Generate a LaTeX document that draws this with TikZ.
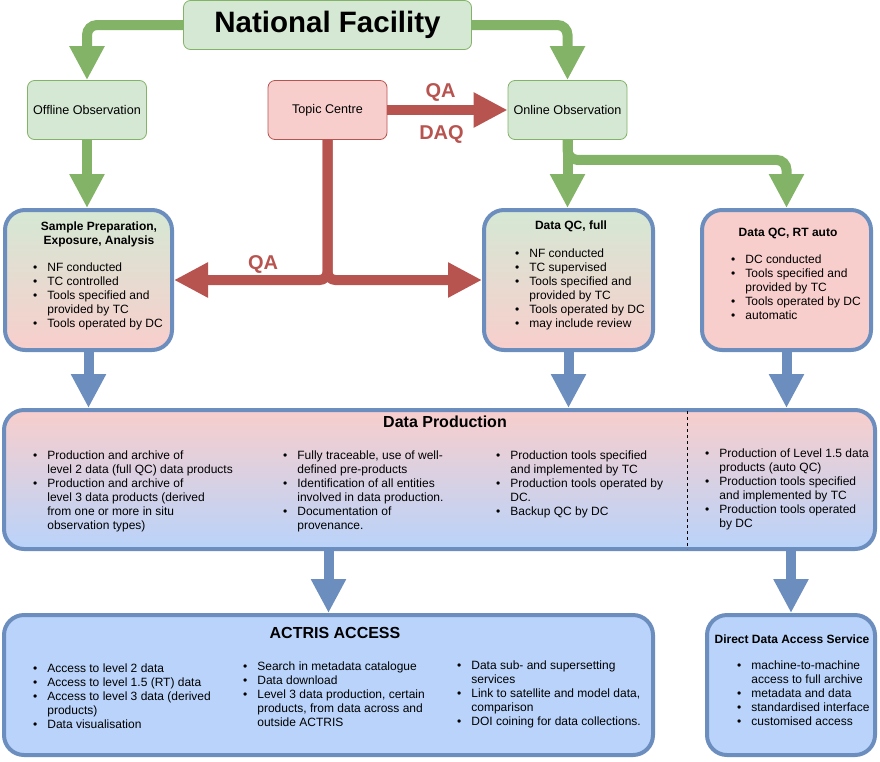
\documentclass[tikz,border=0pt]{standalone}
\usepackage{fontspec}
\setmainfont{Liberation Sans}
\usepackage{xcolor}
\usepackage{tikz}
\usetikzlibrary{arrows.meta,positioning,calc}

\definecolor{gfill}{HTML}{D5E8D4}
\definecolor{gline}{HTML}{82B366}
\definecolor{rfill}{HTML}{F8CECC}
\definecolor{rline}{HTML}{B85450}
\definecolor{bline}{HTML}{6C8EBF}
\definecolor{bfill}{HTML}{B9D3FA}

\newcommand{\itm}{\textbullet &}
\newcommand{\blist}[1]{\begin{tabular}[t]{@{}l@{\hspace{10pt}}l@{}}#1\end{tabular}}

\begin{document}
\begin{tikzpicture}[
    x=1pt, y=-1pt,
    font=\fontsize{12}{14}\selectfont,
    small/.style={draw=gline, fill=gfill, rounded corners=7pt, line width=0.8pt, inner sep=0pt, font=\fontsize{12.6}{14}\selectfont},
    bigbox/.style={draw=bline, line width=4pt, rounded corners=20pt, inner sep=0pt},
    txt/.style={inner sep=0pt, anchor=base west},
    ttl/.style={inner sep=0pt, font=\fontsize{12}{14}\selectfont\bfseries, align=center},
    garrow/.style={gline, line width=10pt, rounded corners=10pt, -{Triangle[width=33pt,length=34pt]}},
    rarrow/.style={rline, line width=10pt, rounded corners=8pt, -{Triangle[width=33pt,length=34pt]}},
    barrow/.style={bline, line width=10pt, -{Triangle[width=33pt,length=34pt]}},
    qlabel/.style={text=rline, inner sep=0pt, font=\fontsize{20}{22}\selectfont\bfseries}
]
\useasboundingbox (0,0) rectangle (880,761);

% top row
\node[small, minimum width=288pt, minimum height=49pt, font=\fontsize{29.5}{32}\selectfont\bfseries] (nf) at (327.5,25) {National Facility};
\node[small, minimum width=119pt, minimum height=59pt] (offline) at (87,110) {Offline Observation};
\node[small, draw=rline, fill=rfill, minimum width=119pt, minimum height=59pt] (topic) at (327.5,110) {Topic Centre};
\node[small, minimum width=119pt, minimum height=59pt] (online) at (567.5,110) {Online Observation};

% quality control boxes
\node[bigbox, top color=gfill, bottom color=rfill, minimum width=167pt, minimum height=140pt] (prep) at (88.5,280) {};
\node[bigbox, top color=gfill, bottom color=rfill, minimum width=169pt, minimum height=140pt] (qcfull) at (568.5,280) {};
\node[bigbox, fill=rfill, minimum width=169pt, minimum height=140pt] (qcrt) at (786.5,280) {};

\node[ttl] (prepTitle) at (99,234) {Sample Preparation,\\Exposure, Analysis};
\node[txt] (prepList) at (33,271) {\blist{\itm NF conducted\\ \itm TC controlled\\ \itm Tools specified and\\ & provided by TC\\ \itm Tools operated by DC}};

\node[ttl] (qcfullTitle) at (571,226) {Data QC, full};
\node[txt] (qcfullList) at (515,257) {\blist{\itm NF conducted\\ \itm TC supervised\\ \itm Tools specified and\\ & provided by TC\\ \itm Tools operated by DC\\ \itm may include review}};

\node[ttl] (qcrtTitle) at (788,233) {Data QC, RT auto};
\node[txt] (qcrtList) at (731,263) {\blist{\itm DC conducted\\ \itm Tools specified and\\ & provided by TC\\ \itm Tools operated by DC\\ \itm automatic}};

% data production
\node[bigbox, top color=rfill, bottom color=bfill, minimum width=871pt, minimum height=139pt] (prod) at (439.5,479.5) {};
\draw[dashed, line width=0.8pt] (687,411) -- (687,549);
\node[ttl, font=\fontsize{16}{18}\selectfont\bfseries] (prodTitle) at (445,422) {Data Production};
\node[txt] (prodListA) at (33,459) {\blist{\itm Production and archive of\\ & level 2 data (full QC) data products\\ \itm Production and archive of\\ & level 3 data products (derived\\ & from one or more in situ\\ & observation types)}};
\node[txt] (prodListB) at (283,459) {\blist{\itm Fully traceable, use of well-\\ & defined pre-products\\ \itm Identification of all entities\\ & involved in data production.\\ \itm Documentation of\\ & provenance.}};
\node[txt] (prodListC) at (496,459) {\blist{\itm Production tools specified\\ & and implemented by TC\\ \itm Production tools operated by\\ & DC.\\ \itm Backup QC by DC}};
\node[txt] (prodListD) at (705,457) {\blist{\itm Production of Level 1.5 data\\ & products (auto QC)\\ \itm Production tools specified\\ & and implemented by TC\\ \itm Production tools operated\\ & by DC}};

% access
\node[bigbox, fill=bfill, minimum width=649pt, minimum height=140pt] (actris) at (328.5,685) {};
\node[bigbox, fill=bfill, minimum width=168pt, minimum height=140pt] (direct) at (791,685) {};

\node[ttl, font=\fontsize{16}{18}\selectfont\bfseries] (actrisTitle) at (335,633) {ACTRIS ACCESS};
\node[txt] (actrisListA) at (33,672) {\blist{\itm Access to level 2 data\\ \itm Access to level 1.5 (RT) data\\ \itm Access to level 3 data (derived\\ & products)\\ \itm Data visualisation}};
\node[txt] (actrisListB) at (243,670) {\blist{\itm Search in metadata catalogue\\ \itm Data download\\ \itm Level 3 data production, certain\\ & products, from data across and\\ & outside ACTRIS}};
\node[txt] (actrisListC) at (457,669) {\blist{\itm Data sub- and supersetting\\ & services\\ \itm Link to satellite and model data,\\ & comparison\\ \itm DOI coining for data collections.}};

\node[ttl] (directTitle) at (792,639) {Direct Data Access Service};
\node[txt] (directList) at (737,669) {\blist{\itm machine-to-machine\\ & access to full archive\\ \itm metadata and data\\ \itm standardised interface\\ \itm customised access}};

% green arrows
\draw[garrow] (nf.west) -| (offline.north);
\draw[garrow] (nf.east) -| (online.north);
\draw[garrow] (offline.south) -- (prep.north -| offline.south);
\draw[garrow] (online.south) -- (qcfull.north -| online.south);
\draw[garrow] (online.south) -- ++(0,20) -| (qcrt.north);

% red arrows
\draw[rarrow] (topic.east) -- (online.west)
    node[qlabel, midway, above=4pt, xshift=-7pt] {QA}
    node[qlabel, midway, below=11pt, xshift=-6pt] {DAQ};
\draw[rarrow] (topic.south) |- (prep.east) node[qlabel, pos=0.71, above=2pt] {QA};
\draw[rarrow] (topic.south) |- (qcfull.west);

% blue arrows
\draw[barrow] (prep.south) -- (prep.south |- prod.north);
\draw[barrow] (qcfull.south) -- (qcfull.south |- prod.north);
\draw[barrow] (qcrt.south) -- (qcrt.south |- prod.north);
\draw[barrow] (actris.north |- prod.south) -- (actris.north);
\draw[barrow] (direct.north |- prod.south) -- (direct.north);
\end{tikzpicture}
\end{document}
